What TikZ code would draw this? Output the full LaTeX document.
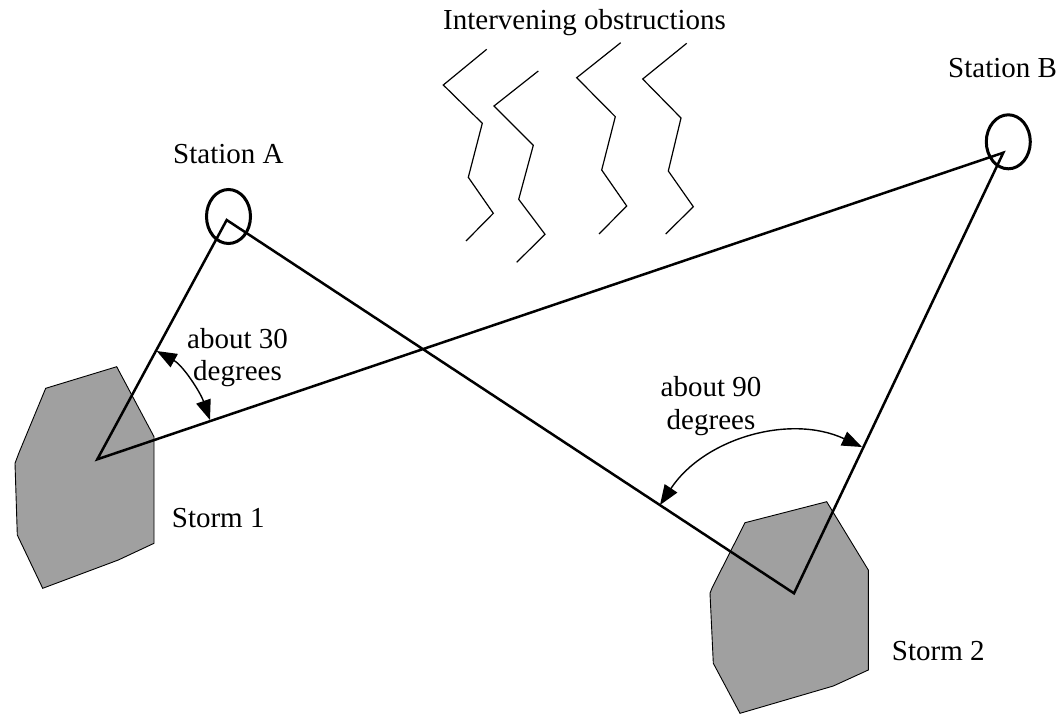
\documentclass[tikz,border=0pt]{standalone}
\usepackage{fontspec}
\setmainfont{Liberation Serif}
\usetikzlibrary{arrows.meta,shapes.geometric}
\definecolor{stormgray}{RGB}{160,160,160}
\begin{document}
\begin{tikzpicture}[x=1pt,y=-1pt,
  lbl/.style={font=\fontsize{29}{32.5}\selectfont, inner sep=0pt},
  storm/.style={fill=stormgray, draw=black, line width=0.9pt, line join=miter},
  ray/.style={line width=2.5pt, line join=miter},
  station/.style={ellipse, draw, line width=3pt, minimum width=44pt, minimum height=54pt, inner sep=0pt},
  obstruction/.style={line width=1.2pt, line join=miter},
  anglemark/.style={line width=1.4pt, {Triangle[length=20pt,width=15pt]}-{Triangle[length=20pt,width=15pt]}}]
\useasboundingbox (0,0) rectangle (1059,715);

% storm cells
\draw[storm] (45.7,388.3) -- (116.7,366.7) -- (154,436.7) -- (154,543.3) -- (118.3,560)
  -- (42.7,588.3) -- (17.3,535) -- (15,463.3) -- (19,452.7) -- cycle;
\draw[storm] (745,522.7) -- (826.7,501.7) -- (868.3,570) -- (868.3,670) -- (833.3,686)
  -- (740,713.3) -- (713.3,663.3) -- (710,593.3) -- (712,588) -- cycle;

% station and storm positions
\coordinate (A) at (226.7,220);
\coordinate (B) at (1003.3,152.7);
\coordinate (S1) at (97.3,459.3);
\coordinate (S2) at (794,593.3);

% bearing lines
\draw[ray] (A) -- (S2) -- (B) -- (S1) -- cycle;

% stations
\node[station] (staA) at (228.5,216.5) {};
\node[station] (staB) at (1008.3,141.8) {};

% obstructions
\draw[obstruction] (486.7,49.3) -- (443.3,85) -- (482.3,123.3) -- (468.3,177.3) -- (493.3,213.3) -- (466,241);
\draw[obstruction] (538.3,71) -- (494,106) -- (533.3,145.3) -- (518.7,199.3) -- (545,234.3) -- (516.7,262.3);
\draw[obstruction] (620.7,42.7) -- (576.7,77.7) -- (615.3,116.7) -- (601.7,170) -- (626.7,206) -- (599,234);
\draw[obstruction] (686.7,43.3) -- (642.7,79) -- (681,118) -- (668.3,171) -- (693.3,206.7) -- (665.7,234);

% angle marks
\coordinate (p30a) at (156.7,351);
\coordinate (p30b) at (210,420);
\draw[anglemark] (p30a) .. controls (182.9,365.4) and (200.2,391.8) .. (p30b);
\coordinate (p90a) at (660,505);
\coordinate (p90b) at (862,447);
\draw[anglemark] (p90a) .. controls (703.9,438.5) and (789.7,413.4) .. (p90b);

% labels
\node[lbl, anchor=base west] (obst) at (443,29.3) {Intervening obstructions};
\node[lbl, anchor=base west] (labA) at (173,163) {Station A};
\node[lbl, anchor=base west] (labB) at (948,77.7) {Station B};
\node[lbl, align=center] (ang30) at (237.5,357.4) {about 30\\degrees};
\node[lbl, align=center] (ang90) at (711,405.9) {about 90\\degrees};
\node[lbl, anchor=base west] (lab1) at (171.7,527) {Storm 1};
\node[lbl, anchor=base west] (lab2) at (891.7,660) {Storm 2};
\end{tikzpicture}
\end{document}
